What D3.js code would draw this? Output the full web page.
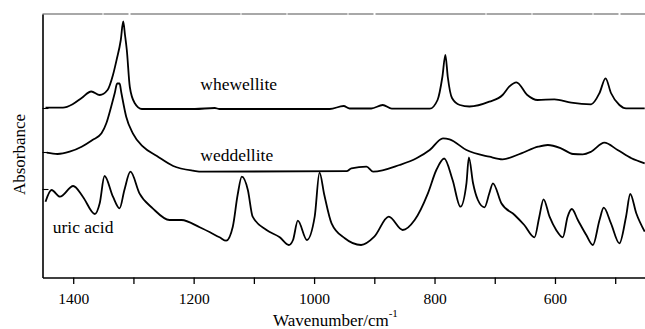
<!DOCTYPE html>
<html>
<head>
<meta charset="utf-8">
<script src="https://cdn.jsdelivr.net/npm/d3@7"></script>
<style>
  body { margin: 0; background: #fff; }
</style>
</head>
<body>
<div id="chart"></div>
<script>
// wavenumber (cm-1) and absorbance (offset, arbitrary units)
const whewelliteWn = [1446, 1417, 1401, 1386, 1370, 1356, 1343, 1334, 1328, 1321, 1317, 1314, 1311, 1306, 1298, 1286,
  1198, 1165, 1157, 974, 951, 941, 905, 886, 871, 808, 795, 787, 782, 778, 771, 758, 742, 709, 687, 676, 664, 646, 629,
  601, 573, 540, 526, 516, 507, 493, 482, 451];
const whewelliteAbs = [1.698, 1.698, 1.732, 1.795, 1.86, 1.825, 1.875, 2.025, 2.175, 2.375, 2.56, 2.425, 2.275, 1.905, 1.745, 1.685,
  1.685, 1.695, 1.685, 1.685, 1.715, 1.69, 1.69, 1.725, 1.688, 1.688, 1.775, 2.005, 2.225, 2.005, 1.795, 1.725, 1.71, 1.758, 1.825, 1.908, 1.952, 1.825, 1.775,
  1.782, 1.748, 1.732, 1.845, 1.992, 1.845, 1.725, 1.692, 1.692];

const weddelliteWn = [1444, 1426, 1406, 1386, 1368, 1353, 1345, 1337, 1331, 1327, 1323, 1320, 1312, 1301, 1284, 1261, 1234, 1201, 1185,
  946, 938, 913, 902, 858, 830, 808, 786, 775, 747, 709, 687, 656, 628, 612, 590, 570, 554, 540, 518, 496, 473, 451];
const weddelliteAbs = [1.248, 1.235, 1.258, 1.308, 1.375, 1.442, 1.542, 1.708, 1.845, 1.94, 1.94, 1.845, 1.608, 1.442, 1.308, 1.215, 1.115, 1.068, 1.058,
  1.063, 1.092, 1.108, 1.058, 1.125, 1.192, 1.275, 1.392, 1.382, 1.275, 1.208, 1.182, 1.242, 1.308, 1.325, 1.292, 1.235, 1.232, 1.258, 1.348, 1.275, 1.192, 1.142];

const uricWn = [1446, 1436, 1422, 1400, 1384, 1364, 1356, 1348, 1334, 1323, 1315, 1305, 1290, 1268, 1240, 1220, 1190, 1157, 1146,
  1135, 1127, 1120, 1110, 1102, 1079, 1057, 1042, 1035, 1027, 1012, 999, 991, 983, 971, 949, 922, 900, 876, 853, 833, 811,
  797, 784, 770, 757, 747, 743, 736, 728, 717, 709, 703, 689, 667, 651, 634, 626, 619, 609, 598, 587, 579, 572, 562, 548,
  537, 526, 519, 507, 493, 482, 475, 465, 451];
const uricAbs = [0.758, 0.875, 0.808, 0.915, 0.808, 0.635, 0.742, 1.015, 0.808, 0.692, 0.875, 1.058, 0.842, 0.692, 0.575, 0.575, 0.502, 0.402, 0.368,
  0.508, 0.825, 1.008, 0.875, 0.608, 0.475, 0.402, 0.325, 0.375, 0.568, 0.375, 0.608, 1.048, 0.825, 0.542, 0.392, 0.325, 0.408, 0.608, 0.475, 0.575, 0.842,
  1.075, 1.19, 0.975, 0.708, 0.942, 1.202, 0.942, 0.775, 0.702, 0.842, 0.942, 0.742, 0.625, 0.525, 0.402, 0.608, 0.782, 0.608, 0.475, 0.402, 0.608, 0.685, 0.575, 0.425,
  0.325, 0.575, 0.698, 0.542, 0.342, 0.608, 0.835, 0.642, 0.458];

const xTicks = [1400, 1300, 1200, 1100, 1000, 900, 800, 700, 600, 500];
const xTickLabels = ['1400', '', '1200', '', '1000', '', '800', '', '600', ''];
const yTicks = [0.885, 1.255, 1.695];

const W = 645, H = 329;
const margin = {top: 14, right: 0, bottom: 51.5, left: 42.5};
const labelFont = '"Liberation Serif"';

const svg = d3.select('#chart').append('svg')
  .attr('width', W)
  .attr('height', H);

const x = d3.scaleLinear()
  .domain([1451, 450.5])
  .range([margin.left, W - margin.right]);
const y = d3.scaleLinear()
  .domain([0, 2.635])
  .range([H - margin.bottom, margin.top]);

// top border, grey like the scan
svg.append('line')
  .attr('x1', margin.left).attr('x2', W)
  .attr('y1', margin.top).attr('y2', margin.top)
  .attr('stroke', '#8c8c8c')
  .attr('stroke-width', 1.3)
  .attr('stroke-dasharray', '60,1,25,2,110,1,45,1');

// x axis
const xAxis = svg.append('g')
  .attr('transform', 'translate(0,' + (H - margin.bottom) + ')')
  .call(d3.axisBottom(x)
    .tickValues(xTicks)
    .tickFormat((d, i) => xTickLabels[i])
    .tickSize(6.5)
    .tickSizeOuter(0));
xAxis.select('.domain').attr('stroke-width', 1.6);
xAxis.selectAll('.tick line').attr('stroke-width', 1.3);
xAxis.selectAll('.tick text')
  .attr('y', 15)
  .attr('fill', '#000')
  .style('font-size', '15.5px')
  .style('font-family', labelFont);

// y axis, no labels, small inside ticks
const yAxis = svg.append('g')
  .attr('transform', 'translate(' + margin.left + ',0)')
  .call(d3.axisLeft(y)
    .tickValues(yTicks)
    .tickFormat('')
    .tickSize(-6)
    .tickSizeOuter(0));
yAxis.select('.domain').attr('stroke-width', 1.6);
yAxis.selectAll('.tick line').attr('stroke-width', 1.1);

const line = d3.line()
  .x(d => x(d[0]))
  .y(d => y(d[1]))
  .curve(d3.curveMonotoneX);

const traces = [
  d3.zip(whewelliteWn, whewelliteAbs),
  d3.zip(weddelliteWn, weddelliteAbs),
  d3.zip(uricWn, uricAbs)
];

svg.append('g')
  .selectAll('path')
  .data(traces)
  .enter()
  .append('path')
    .attr('d', line)
    .attr('fill', 'none')
    .attr('stroke', '#000')
    .attr('stroke-width', 1.8)
    .attr('stroke-linejoin', 'round');

// trace names
function label(wn, ab, txt) {
  svg.append('text').attr('x', x(wn)).attr('y', y(ab))
    .style('font-family', labelFont)
    .style('font-size', '17.5px')
    .attr('fill', '#000')
    .text(txt);
}
label(1189, 1.875, 'whewellite');
label(1189, 1.168, 'weddellite');
label(1434, 0.448, 'uric acid');

// axis titles
const xt = svg.append('text')
  .attr('x', 273)
  .attr('y', 326)
  .attr('fill', '#000')
  .style('font-family', labelFont)
  .style('font-size', '17px');
xt.append('tspan').text('Wavenumber/cm');
xt.append('tspan').attr('dy', -9).style('font-size', '11px').text('-1');

svg.append('text')
  .attr('transform', 'translate(25,154.5) rotate(-90)')
  .attr('text-anchor', 'middle')
  .attr('fill', '#000')
  .style('font-family', labelFont)
  .style('font-size', '17px')
  .text('Absorbance');
</script>
</body>
</html>
